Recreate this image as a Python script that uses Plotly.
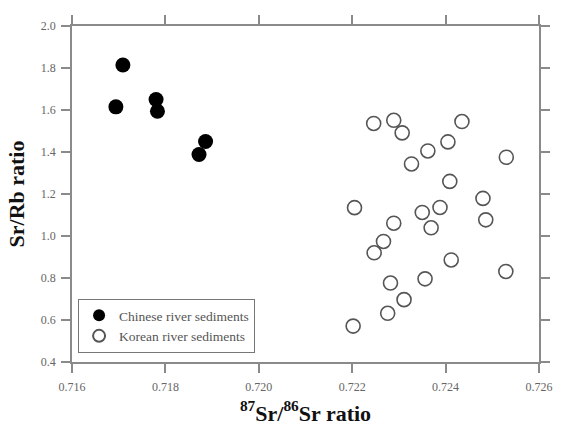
import plotly.graph_objects as go

cn_x = [0.71709, 0.71694, 0.71780, 0.71783, 0.71886, 0.71872]
cn_y = [1.814, 1.615, 1.650, 1.594, 1.450, 1.388]

kr_x = [0.72246, 0.72289, 0.72307, 0.72435, 0.72405, 0.72362, 0.72327, 0.72530,
        0.72409, 0.72480, 0.72205, 0.72388, 0.72350, 0.72289, 0.72369, 0.72486,
        0.72267, 0.72247, 0.72412, 0.72529, 0.72282, 0.72356, 0.72311, 0.72276,
        0.72202]
kr_y = [1.536, 1.551, 1.491, 1.545, 1.448, 1.405, 1.343, 1.375,
        1.260, 1.179, 1.135, 1.136, 1.112, 1.061, 1.039, 1.077,
        0.974, 0.920, 0.886, 0.831, 0.776, 0.796, 0.697, 0.632,
        0.571]

x_ticks = [0.716, 0.718, 0.720, 0.722, 0.724, 0.726]
y_ticks = [0.4, 0.6, 0.8, 1.0, 1.2, 1.4, 1.6, 1.8, 2.0]

serif = "Liberation Serif, Times New Roman, serif"
axis_col = "#8a8a8a"

fig = go.Figure()
fig.add_trace(go.Scatter(
    x=cn_x, y=cn_y, mode="markers", name="Chinese river sediments",
    marker=dict(symbol="circle", size=15, color="black", line=dict(width=0)),
))
fig.add_trace(go.Scatter(
    x=kr_x, y=kr_y, mode="markers", name="Korean river sediments",
    marker=dict(symbol="circle-open", size=14, color="#555555", line=dict(width=1.6)),
))

fig.update_layout(
    width=562, height=428,
    margin=dict(l=72, r=23, t=26, b=66),
    plot_bgcolor="white", paper_bgcolor="white",
    font=dict(family=serif, color="#666666", size=12),
    showlegend=True,
    legend=dict(
        x=0.013, y=0.1875, xanchor="left", yanchor="top",
        bordercolor="#777777", borderwidth=1, bgcolor="white",
        font=dict(family=serif, size=13.5, color="#555555"),
        tracegroupgap=0, itemsizing="constant",
    ),
    xaxis=dict(
        range=[0.716, 0.726], tickvals=x_ticks,
        ticktext=[f"{v:.3f}" for v in x_ticks],
        showline=True, linecolor=axis_col, linewidth=1.8, mirror="ticks",
        ticks="outside", ticklen=9, tickwidth=1.5, tickcolor=axis_col,
        showgrid=False, zeroline=False, ticklabelstandoff=4, automargin=False,
        tickfont=dict(family=serif, size=12, color="#666666"),
        title=dict(text="<b><sup>87</sup>Sr/<sup>86</sup>Sr ratio</b>",
                   font=dict(family=serif, size=22, color="#111111"), standoff=12),
    ),
    yaxis=dict(
        range=[0.4, 2.0], tickvals=y_ticks,
        ticktext=[f"{v:.1f}" for v in y_ticks],
        showline=True, linecolor=axis_col, linewidth=1.8, mirror="ticks",
        ticks="outside", ticklen=9, tickwidth=1.5, tickcolor=axis_col,
        showgrid=False, zeroline=False, ticklabelstandoff=3, automargin=False,
        tickfont=dict(family=serif, size=12, color="#666666"),
        title=dict(text="<b>Sr/Rb ratio</b>",
                   font=dict(family=serif, size=22, color="#111111"), standoff=10),
    ),
)

fig.write_html("out.html")
